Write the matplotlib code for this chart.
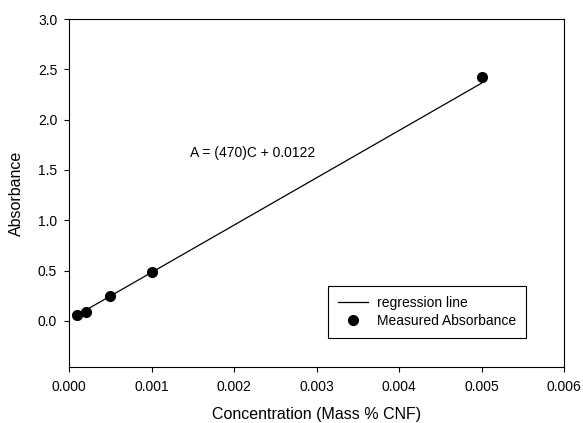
import numpy as np
import matplotlib.pyplot as plt

plt.rcParams["font.family"] = ["Liberation Sans", "DejaVu Sans"]

# measured data
conc = [0.0001, 0.0002, 0.0005, 0.001, 0.005]
absorb = [0.06, 0.09, 0.25, 0.49, 2.42]

# regression: A = 470*C + 0.0122
slope = 470
intercept = 0.0122
fit_x = np.array([conc[0], conc[-1]])
fit_y = slope * fit_x + intercept

xticks = [0.000, 0.001, 0.002, 0.003, 0.004, 0.005, 0.006]
yticks = [0.0, 0.5, 1.0, 1.5, 2.0, 2.5, 3.0]

fig = plt.figure(figsize=(5.83, 4.23), dpi=100)
ax = fig.add_axes([69 / 583, 1 - 367 / 423, (564 - 69) / 583, (367 - 19) / 423])

ax.plot(fit_x, fit_y, color="black", lw=0.9, label="regression line")
ax.plot(conc, absorb, "o", color="black", markersize=7, label="Measured Absorbance")

ax.set_xlim(0, 0.006)
ax.set_ylim(-0.457, 3.0)
ax.set_xticks(xticks)
ax.set_xticklabels([f"{v:.3f}" for v in xticks])
ax.set_yticks(yticks)
ax.set_yticklabels([f"{v:.1f}" for v in yticks])
ax.tick_params(direction="out", length=3.5, width=0.8, labelsize=10, top=False, right=False)
ax.tick_params(axis="x", pad=5.5)
ax.tick_params(axis="y", pad=5)
for s in ax.spines.values():
    s.set_linewidth(0.8)

ax.set_xlabel("Concentration (Mass % CNF)", fontsize=11.5)
ax.set_ylabel("Absorbance", fontsize=11.5)
ax.xaxis.set_label_coords(0.5, -0.116)
ax.yaxis.set_label_coords(-0.09, 0.5)

ax.text(0.00147, 1.67, "A = (470)C + 0.0122", fontsize=10, va="center")

leg = ax.legend(loc="lower right", bbox_to_anchor=(526 / 583, 1 - 338 / 423),
                bbox_transform=fig.transFigure, fontsize=10, fancybox=False,
                framealpha=1, edgecolor="black", borderpad=0.7, borderaxespad=0,
                handlelength=2.2, handletextpad=0.65, labelspacing=0.3)
leg.get_frame().set_linewidth(0.8)

fig.savefig("out.png", dpi=100)
